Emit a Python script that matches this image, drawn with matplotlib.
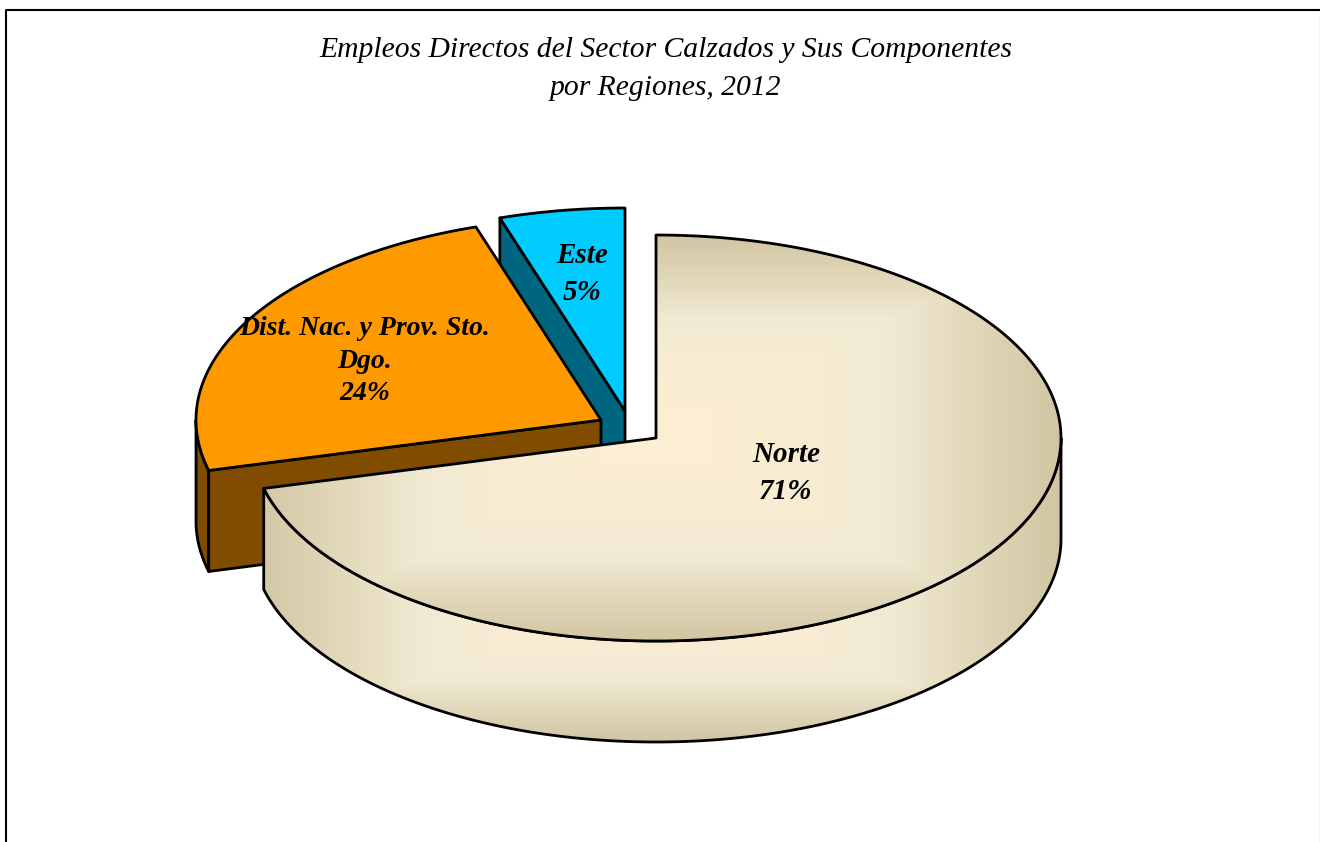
import numpy as np
import matplotlib
matplotlib.use("Agg")
import matplotlib.pyplot as plt
from matplotlib.patches import Polygon

title_lines = ["Empleos Directos del Sector Calzados y Sus Componentes", "por Regiones, 2012"]
regions = ["Norte", "Dist. Nac. y Prov. Sto.\nDgo.", "Este"]
shares = [71, 24, 5]
top_colors = [None, "#FF9900", "#00CCFF"]
side_colors = [None, "#804D00", "#006680"]

# layout, all in pixels of the 1320x842 picture
W, H = 1320, 842
RX, RY, DEPTH = 405, 203, 101
centers = [(656, 438), (601, 420), (625, 411)]
label_pos = [(786, 473), (365, 361), (582, 274)]
label_spacing = [1.45, 1.4, 1.45]
label_size = [21, 20, 21]

# gradient stops of the Norte slice (0 = middle, 1 = edge of its box)
stops = [0, 0.4, 0.58, 0.75, 1]
stop_colors = np.array([[253, 239, 210], [247, 236, 211], [241, 234, 212],
                        [228, 219, 190], [209, 197, 162]]) / 255


def arc(c, a0, a1, drop=0):
    # clockwise angles in degrees from 12 o'clock
    a = np.radians(np.linspace(a0, a1, 200))
    return np.column_stack([c[0] + RX * np.sin(a), c[1] - RY * np.cos(a) + drop])


def poly(ax, pts, z, face="none"):
    p = Polygon(pts, closed=True, facecolor=face, edgecolor="black", linewidth=2.0,
                joinstyle="round", zorder=z)
    ax.add_patch(p)
    return p


def gradient(ax, clip, cy, half_h, z):
    # rectangular gradient, same look as the fill of the original slice
    cx = centers[0][0]
    xs, ys = np.meshgrid(np.arange(W) + 0.5, np.arange(H) + 0.5)
    t = np.clip(np.maximum(np.abs(xs - cx) / RX, np.abs(ys - cy) / half_h), 0, 1)
    rgb = np.dstack([np.interp(t, stops, stop_colors[:, i]) for i in range(3)])
    im = ax.imshow(rgb, extent=(0, W, H, 0), zorder=z, interpolation="bilinear")
    im.set_clip_path(clip)


# slice angles come from the shares, going clockwise from the top
edges = np.concatenate([[0], np.cumsum(shares)]) * 360 / sum(shares)

fig = plt.figure(figsize=(W / 100, H / 100), dpi=100)
ax = fig.add_axes([0, 0, 1, 1])
ax.axis("off")

# frame, the bottom is cut off in the original
ax.plot([6, 6, W], [H, 9.5, 9.5], color="black", linewidth=1.5, zorder=1)
ax.plot([W - 0.5, W - 0.5], [11, H], color="#D9D9D9", linewidth=1, zorder=1)

# back slices first
z = 2
for i in [2, 1]:
    c = centers[i]
    a0, a1 = edges[i], edges[i + 1]
    rim = arc(c, a0, a1)
    if i == 2:
        # cut face that looks towards the viewer on the right
        cut = np.array([rim[0], c, (c[0], c[1] + DEPTH), (rim[0][0], rim[0][1] + DEPTH)])
        poly(ax, cut, z, side_colors[i])
    else:
        # outer wall on the left and the front cut face
        wall_end = max(a0, 270)
        wall = np.vstack([arc(c, a0, wall_end), arc(c, wall_end, a0, DEPTH)])
        poly(ax, wall, z, side_colors[i])
        cut = np.array([c, rim[0], (rim[0][0], rim[0][1] + DEPTH), (c[0], c[1] + DEPTH)])
        poly(ax, cut, z, side_colors[i])
    poly(ax, np.vstack([[c], rim]), z + 1, top_colors[i])
    z += 2

# Norte slice
c = centers[0]
wall = np.vstack([arc(c, 90, edges[1]), arc(c, edges[1], 90, DEPTH)])
wall_clip = poly(ax, wall, z)
wall_clip.set_edgecolor("none")
gradient(ax, wall_clip, 590, 152, z + 1)
poly(ax, wall, z + 2)
top = np.vstack([[c], arc(c, 0, edges[1])])
top_clip = poly(ax, top, z + 3)
top_clip.set_edgecolor("none")
gradient(ax, top_clip, c[1], RY, z + 4)
poly(ax, top, z + 5)

ax.set_xlim(0, W)
ax.set_ylim(H, 0)

serif = ["Liberation Serif", "DejaVu Serif"]
for line, y in zip(title_lines, [50, 88]):
    ax.text(666, y, line, ha="center", va="center", family=serif, style="italic",
            fontsize=21.3, color="black", zorder=30)

for name, share, pos, sp, size in zip(regions, shares, label_pos, label_spacing, label_size):
    ax.text(pos[0], pos[1], f"{name}\n{share}%", ha="center", va="center", family=serif,
            style="italic", weight="bold", fontsize=size, linespacing=sp, color="black", zorder=30)

fig.savefig("out.png", dpi=100)
